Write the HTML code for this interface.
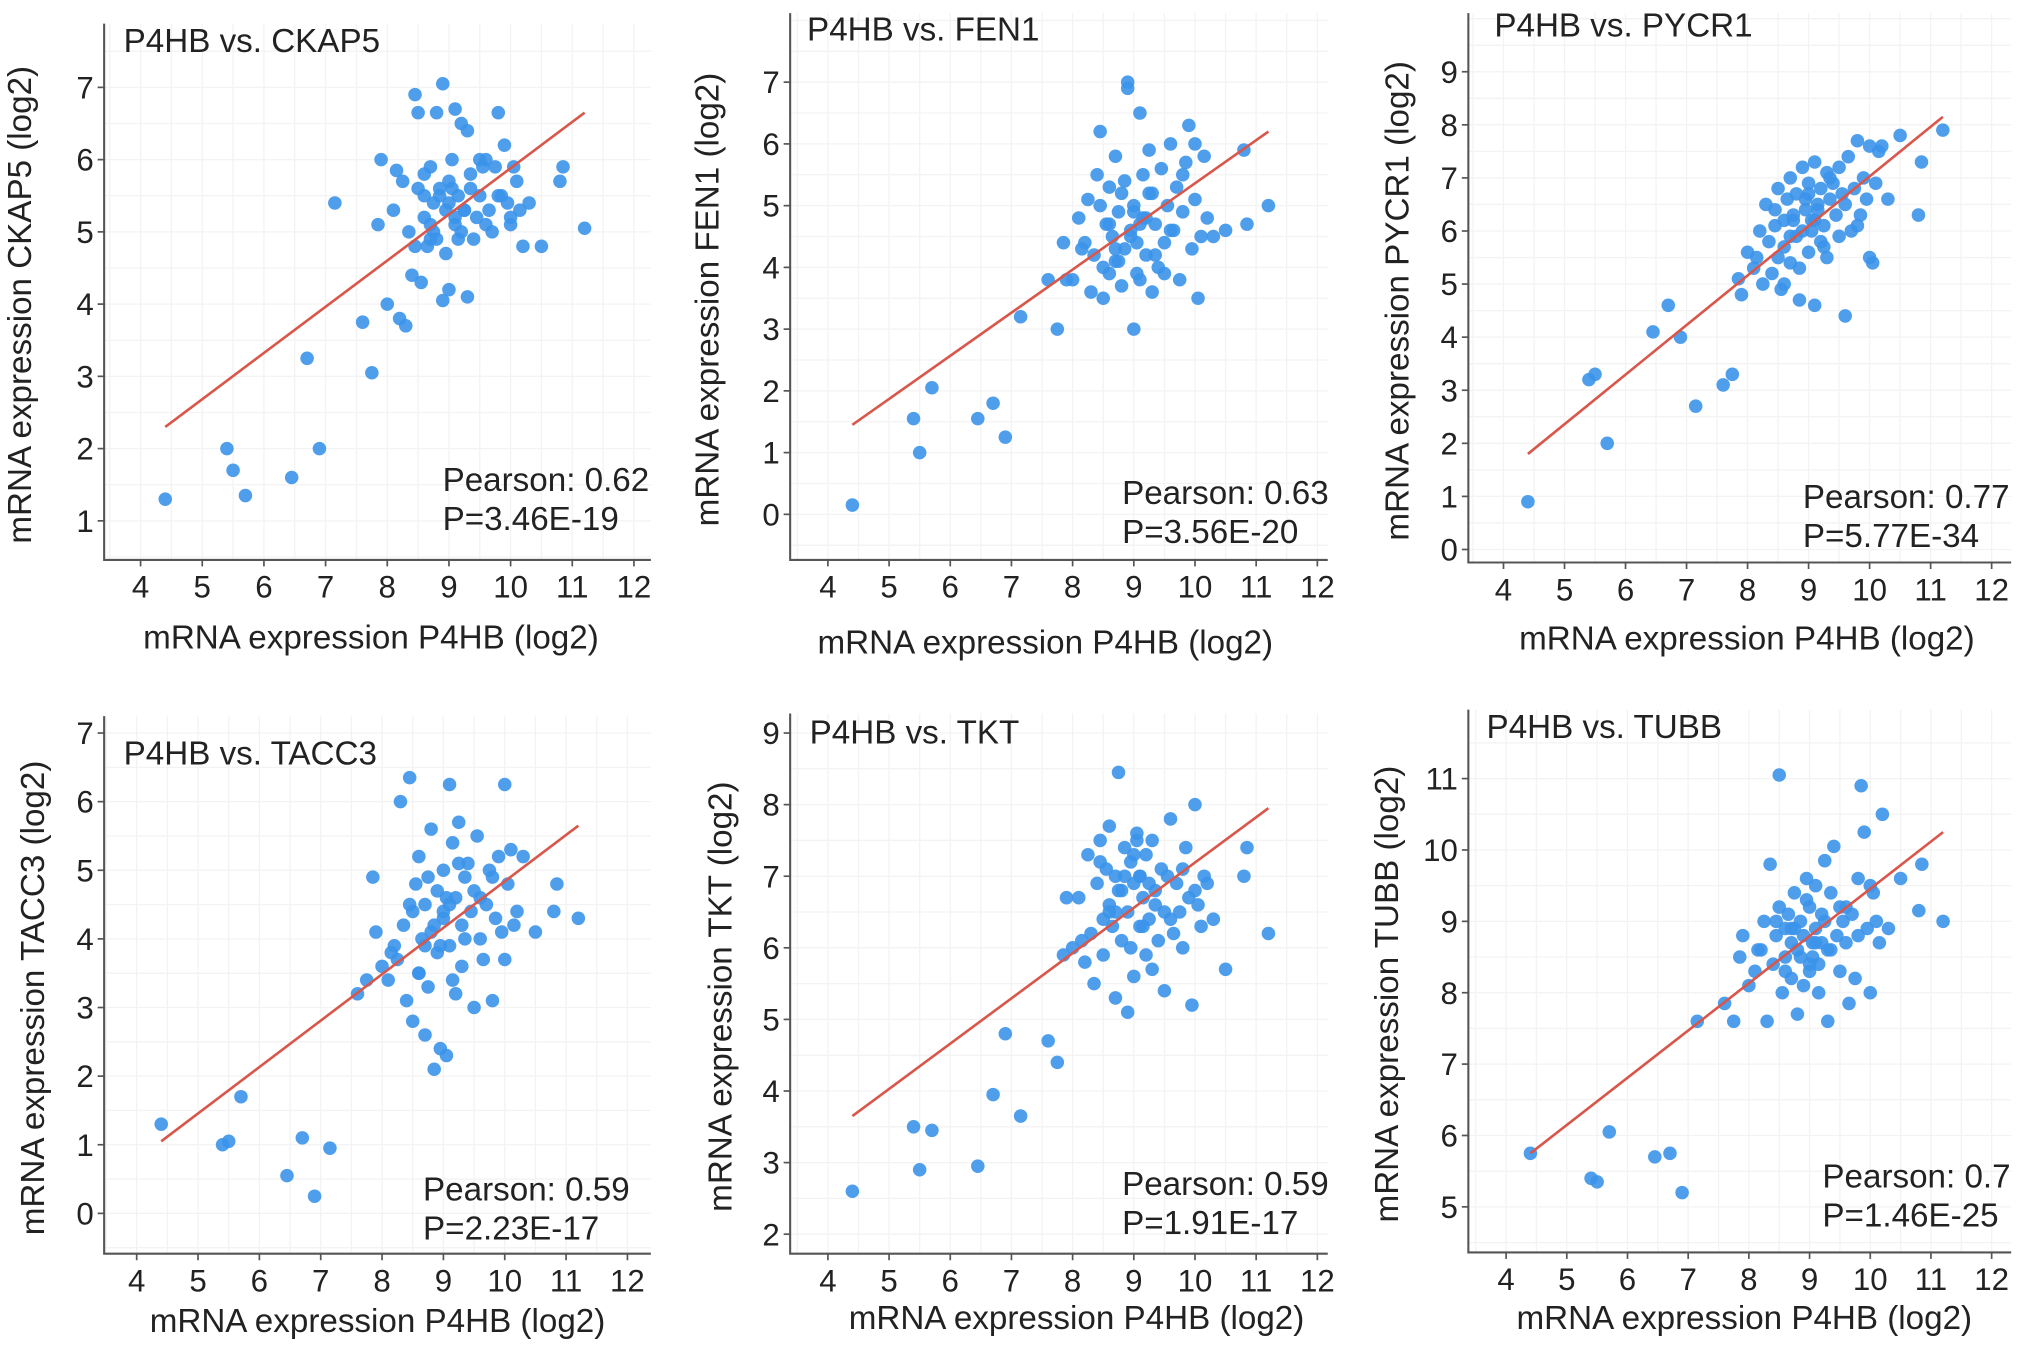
<!DOCTYPE html>
<html><head><meta charset="utf-8">
<style>
html,body{margin:0;padding:0;background:#fff;}
svg{display:block;font-family:"Liberation Sans",Arial,sans-serif;}
</style></head>
<body>
<svg id="fig" width="2032" height="1345" viewBox="0 0 1561 1033" xmlns="http://www.w3.org/2000/svg"></svg>
<script>
// Shared P4HB expression (x) for all panels
const p4hbX = [4.4,5.4,5.5,5.7,6.45,6.7,6.9,7.15,7.6,7.75,
8.0,8.1,8.2,8.25,8.3,8.35,8.4,8.45,8.5,8.5,8.55,8.6,8.6,8.65,8.7,8.7,8.75,8.8,8.8,8.85,
8.9,8.9,8.95,9.0,9.0,9.05,9.1,9.1,9.15,9.2,9.2,9.25,9.3,9.3,9.35,9.4,9.45,9.5,9.5,9.55,
9.6,9.65,9.7,9.75,9.8,9.85,9.9,9.95,10.0,10.05,10.1,10.15,10.2,10.3,10.5,10.8,10.85,11.2,7.85,7.9,
8.15,8.45,8.6,8.75,8.85,8.95,9.05,9.15,9.25,9.35,9.6,9.8,10.0,9.0,8.7,9.1];
const ckap5Y = [1.3,2.0,1.7,1.35,1.6,3.25,2.0,5.4,3.75,3.05,
4.0,5.3,3.8,5.7,3.7,5.0,4.4,6.9,5.6,6.65,4.3,5.2,5.5,4.8,5.9,5.1,5.4,6.65,4.9,5.6,
4.05,7.05,5.3,5.7,4.2,6.0,6.7,5.2,5.5,5.0,6.5,5.3,4.1,6.4,5.6,4.9,5.2,6.0,5.5,5.9,
5.1,5.3,5.0,5.9,6.65,5.5,6.2,5.4,5.1,5.9,5.7,5.3,4.8,5.4,4.8,5.7,5.9,5.05,5.1,6.0,
5.85,4.8,5.8,5.0,5.5,4.7,5.6,4.9,5.3,5.8,6.0,5.5,5.2,5.4,4.9,5.1];
const fen1Y = [0.15,1.55,1.0,2.05,1.55,1.8,1.25,3.2,3.8,3.0,
3.8,4.8,4.4,5.1,3.6,4.2,5.5,6.2,4.0,3.5,4.7,5.3,3.9,4.5,5.8,4.1,4.9,3.7,5.2,4.3,
7.0,6.9,4.6,3.0,5.0,4.4,6.5,3.8,5.5,4.2,4.8,5.9,3.6,5.2,4.7,4.0,5.6,4.4,3.9,5.0,
6.0,4.6,5.3,3.8,4.9,5.7,6.3,4.3,5.1,3.5,4.5,5.8,4.8,4.5,4.6,5.9,4.7,5.0,4.4,3.8,
4.3,5.0,4.7,4.1,5.4,4.5,3.9,4.8,5.2,4.2,4.6,5.5,6.0,4.9,4.3,4.7];
const pycr1Y = [0.9,3.2,3.3,2.0,4.1,4.6,4.0,2.7,3.1,3.3,
5.6,5.3,6.0,5.0,6.5,5.8,5.2,6.1,5.5,6.8,4.9,6.2,5.7,6.6,5.4,7.0,6.3,5.9,6.7,4.7,
6.0,7.2,6.4,5.6,6.9,6.2,4.6,7.3,6.5,5.8,6.8,6.1,7.1,5.5,6.6,6.9,6.3,7.2,5.9,6.7,
6.5,7.4,6.0,6.8,7.7,6.3,7.0,6.6,7.6,5.4,6.9,7.5,7.6,6.6,7.8,6.3,7.3,7.9,5.1,4.8,
5.5,6.4,5.0,6.2,5.3,6.6,6.0,6.4,5.7,7.0,4.4,6.1,5.5,6.7,5.9,6.2];
const tacc3Y = [1.3,1.0,1.05,1.7,0.55,1.1,0.25,0.95,3.2,3.4,
3.6,3.4,3.9,3.7,6.0,4.2,3.1,6.35,4.4,2.8,4.8,3.5,5.2,4.0,2.6,4.5,3.3,5.6,4.1,2.1,
4.7,3.8,2.4,4.3,5.0,2.3,6.25,3.9,5.4,4.6,3.2,5.7,4.2,3.6,4.9,5.1,4.4,3.0,4.7,5.5,
4.0,3.7,4.5,5.0,3.1,4.3,5.2,4.1,6.25,4.8,5.3,4.2,4.4,5.2,4.1,4.4,4.8,4.3,4.9,4.1,
3.8,4.5,3.5,4.9,4.2,3.9,4.6,3.4,5.1,4.0,4.6,4.9,3.7,4.4,3.9,4.5];
const tktY = [2.6,3.5,2.9,3.45,2.95,3.95,4.8,3.65,4.7,4.4,
6.0,6.7,5.8,7.3,6.2,5.5,6.9,7.5,6.4,5.9,7.1,6.6,7.7,6.3,5.3,7.0,8.45,6.8,6.1,7.4,
6.5,5.1,7.2,6.9,5.6,7.6,6.3,7.0,6.7,5.9,7.3,6.4,5.7,7.5,6.8,6.1,7.1,6.5,5.4,7.0,
7.8,6.2,6.9,6.5,6.0,7.4,6.7,5.2,8.0,6.6,6.3,7.0,6.9,6.4,5.7,7.0,7.4,6.2,5.9,6.7,
6.1,7.2,6.5,6.8,7.0,6.0,7.5,6.3,6.9,6.6,6.4,7.1,6.8,7.3,6.5,7.0];
const tubbY = [5.75,5.4,5.35,6.05,5.7,5.75,5.2,7.6,7.85,7.6,
8.1,8.3,8.6,9.0,7.6,9.8,8.4,8.8,9.2,11.05,8.0,8.9,8.5,9.1,8.2,8.7,9.4,7.7,8.6,9.0,
8.1,8.8,9.6,8.3,9.2,8.5,8.9,9.5,8.0,8.7,9.1,9.85,7.6,8.6,9.4,10.05,8.8,9.2,8.3,9.0,
8.7,7.85,9.1,8.2,9.6,10.9,10.25,8.9,8.0,9.4,9.0,8.7,10.5,8.9,9.6,9.15,9.8,9.0,8.5,8.8,
8.6,9.0,8.3,8.9,8.5,9.3,8.7,8.4,9.0,8.6,9.2,8.8,9.5,8.4,8.9,8.7];
const genes = ["CKAP5","FEN1","PYCR1","TACC3","TKT","TUBB"];
const pearsonVals = ["0.62","0.63","0.77","0.59","0.59","0.7"];
const pValues = ["3.46E-19","3.56E-20","5.77E-34","2.23E-17","1.91E-17","1.46E-25"];
const fitStartY = [2.3,1.45,1.8,1.05,3.65,5.75];
const fitEndY = [6.65,6.2,8.15,5.65,7.95,10.25];
const fitX = [4.4,11.2];
const xTicks = [4,5,6,7,8,9,10,11,12];
const yTickMin = [1,0,0,0,2,5];
const yTickMax = [7,7,9,7,9,11];

const seriesY = [ckap5Y,fen1Y,pycr1Y,tacc3Y,tktY,tubbY];
const L = [
 {left:80,bottom:430,top:18,right:500,x4:108,x12:487,ya:1,yaPx:400,yb:7,ybPx:67,tx:95,ty:40,sx:340,sy:377,ylx:24,xlx:285,xly:498},
 {left:607,bottom:430,top:10,right:1020,x4:636,x12:1012,ya:0,yaPx:395,yb:7,ybPx:63,tx:620,ty:31,sx:862,sy:387,ylx:552,xlx:803,xly:502},
 {left:1128,bottom:432,top:10,right:1545,x4:1155,x12:1530,ya:0,yaPx:422,yb:9,ybPx:55,tx:1148,ty:28,sx:1385,sy:390,ylx:1082,xlx:1342,xly:499},
 {left:80,bottom:963,top:550,right:500,x4:105,x12:482,ya:0,yaPx:932,yb:7,ybPx:563,tx:95,ty:587,sx:325,sy:922,ylx:34,xlx:290,xly:1023},
 {left:607,bottom:963,top:548,right:1020,x4:636,x12:1012,ya:2,yaPx:948,yb:9,ybPx:563,tx:622,ty:571,sx:862,sy:918,ylx:562,xlx:827,xly:1021},
 {left:1128,bottom:962,top:545,right:1545,x4:1157,x12:1530,ya:5,yaPx:927,yb:11,ybPx:598,tx:1142,ty:567,sx:1400,sy:912,ylx:1074,xlx:1340,xly:1021}
];
const NS="http://www.w3.org/2000/svg";
const svg=document.getElementById('fig');
function mk(tag,attrs,parent){const e=document.createElementNS(NS,tag);for(const k in attrs)e.setAttribute(k,attrs[k]);parent.appendChild(e);return e;}
const FS=25.5, TFS=24;
genes.forEach((g,i)=>{
  const c=L[i];
  const xs=v=>c.x4+(v-4)*(c.x12-c.x4)/8;
  const ys=v=>c.yaPx+(v-c.ya)*(c.ybPx-c.yaPx)/(c.yb-c.ya);
  const grp=mk('g',{},svg);
  
  
  const grid=mk('g',{stroke:'#f3f3f3','stroke-width':1},grp);
  
  
  for(let t=3.5;t<=12;t+=0.5){const x=xs(t);if(x>c.left&&x<c.right)mk('line',{x1:x,x2:x,y1:c.top,y2:c.bottom},grid);}
  for(let t=yTickMin[i]-0.5;t<=yTickMax[i]+1;t+=0.5){const y=ys(t);if(y<c.bottom&&y>c.top)mk('line',{x1:c.left,x2:c.right,y1:y,y2:y},grid);}
  const ax=mk('path',{d:`M${c.left},${c.top}V${c.bottom}H${c.right}`,fill:'none',stroke:'#555','stroke-width':1.6},grp);
  
  
  xTicks.forEach(t=>{
    const x=xs(t);
    mk('line',{x1:x,x2:x,y1:c.bottom,y2:c.bottom+5,stroke:'#555','stroke-width':1.3},grp);
    const tl=mk('text',{x:x,y:c.bottom+29,'text-anchor':'middle','font-size':TFS,fill:'#222'},grp);
    
    
    tl.textContent=t;
  });
  for(let t=yTickMin[i];t<=yTickMax[i];t++){
    const y=ys(t);
    mk('line',{x1:c.left-5,x2:c.left,y1:y,y2:y,stroke:'#555','stroke-width':1.3},grp);
    const tl=mk('text',{x:c.left-8,y:y+8.5,'text-anchor':'end','font-size':TFS,fill:'#222'},grp);
    
    
    tl.textContent=t;
  }
  const pts=mk('g',{fill:'#3b93ea','fill-opacity':0.9},grp);
  
  
  seriesY[i].forEach((v,k)=>{
    const p=mk('circle',{cx:xs(p4hbX[k]),cy:ys(v),r:5.2},pts);
    
    
  });
  const fl=mk('line',{x1:xs(fitX[0]),y1:ys(fitStartY[i]),x2:xs(fitX[1]),y2:ys(fitEndY[i]),stroke:'#d9564a','stroke-width':2},grp);
  
  
  const tt=mk('text',{x:c.tx,y:c.ty,'font-size':FS,fill:'#222'},grp);
  
  
  tt.textContent='P4HB vs. '+g;
  const s1=mk('text',{x:c.sx,y:c.sy,'font-size':FS,fill:'#222'},grp);
  
  
  s1.textContent='Pearson: '+pearsonVals[i];
  const s2=mk('text',{x:c.sx,y:c.sy+30,'font-size':FS,fill:'#222'},grp);
  
  
  s2.textContent='P='+pValues[i];
  const xl=mk('text',{x:c.xlx,y:c.xly,'text-anchor':'middle','font-size':FS,fill:'#222'},grp);
  
  
  xl.textContent='mRNA expression P4HB (log2)';
  const yc=(c.top+c.bottom)/2+10;
  const yl=mk('text',{x:c.ylx,y:yc,'text-anchor':'middle','font-size':FS,fill:'#222',transform:`rotate(-90 ${c.ylx} ${yc})`},grp);
  
  
  yl.textContent='mRNA expression '+g+' (log2)';
});
</script>
</body></html>
